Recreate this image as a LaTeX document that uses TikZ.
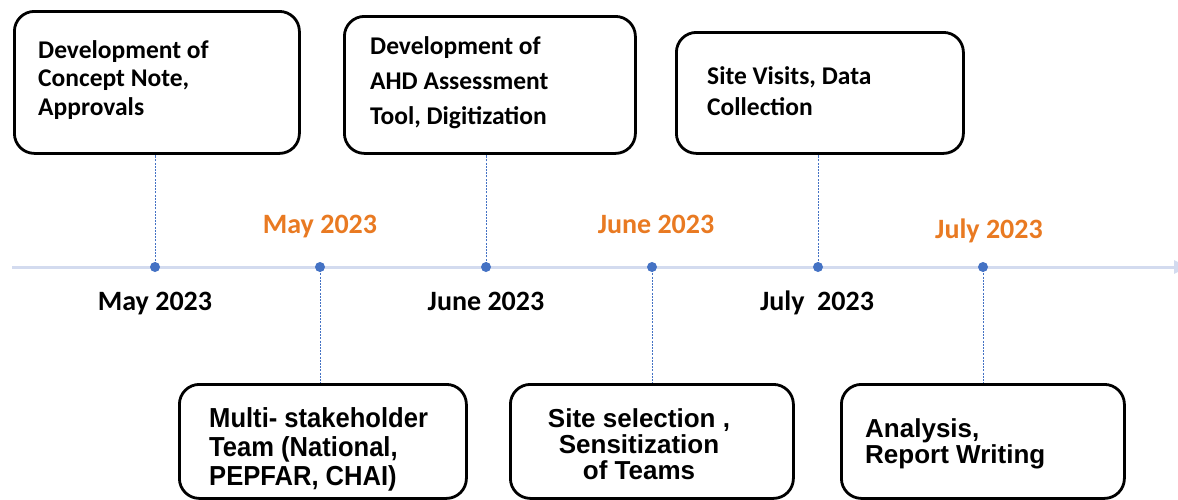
\documentclass[tikz,border=0pt]{standalone}
\usepackage{fontspec}
\usetikzlibrary{arrows.meta}
\newfontfamily\calfont{Carlito}
\newfontfamily\arifont{Liberation Sans}
\definecolor{dotblue}{HTML}{4472C4}
\definecolor{axiscol}{HTML}{D3DBEF}
\definecolor{orangelbl}{HTML}{E97A22}
\renewcommand\arraystretch{1}
\tikzset{
  stagebox/.style={draw=black, line width=2.8pt, rounded corners=20pt, inner sep=0pt, anchor=north west},
  topfont/.style={font={\calfont\bfseries\fontsize{25.5}{28.5}\selectfont}, inner sep=0pt, anchor=base west},
  botfont/.style={font={\arifont\bfseries\fontsize{26}{28.5}\selectfont}, inner sep=0pt, anchor=base west},
  datelbl/.style={font={\calfont\bfseries\fontsize{28}{32}\selectfont}, inner sep=0pt, anchor=base},
  dot/.style={circle, fill=dotblue, minimum size=10pt, inner sep=0pt},
  conn/.style={draw=dotblue, line width=0.9pt, dash pattern=on 2pt off 1.2pt},
  axisline/.style={draw=axiscol, line width=3pt, -{Triangle[length=14pt,width=13pt]}}
}
\begin{document}
\begin{tikzpicture}[x=1pt,y=-1pt]
\useasboundingbox (0,0) rectangle (1178,499);
\fill[white] (0,0) rectangle (1178,499);

% axis
\coordinate (axs) at (12,267);
\coordinate (axe) at (1188,267);
\draw[axisline] (axs) -- (axe);

% boxes
\node[stagebox, minimum width=285pt, minimum height=142pt] (t1) at (13,10) {};
\node[stagebox, minimum width=291pt, minimum height=137pt] (t2) at (343,15) {};
\node[stagebox, minimum width=287pt, minimum height=121pt] (t3) at (675,31) {};
\node[stagebox, minimum width=287pt, minimum height=114pt] (b1) at (178,383) {};
\node[stagebox, minimum width=283pt, minimum height=114pt] (b2) at (509,383) {};
\node[stagebox, minimum width=283pt, minimum height=114pt] (b3) at (840,383) {};

% dots positions
\coordinate (p1) at (155,267);
\coordinate (p2) at (320,267);
\coordinate (p3) at (486,267);
\coordinate (p4) at (652,267);
\coordinate (p5) at (818,267);
\coordinate (p6) at (983,267);

% connectors
\draw[conn] (p1) -- (p1 |- t1.south);
\draw[conn] (p2) -- (p2 |- b1.north);
\draw[conn] (p3) -- (p3 |- t2.south);
\draw[conn] (p4) -- (p4 |- b2.north);
\draw[conn] (p5) -- (p5 |- t3.south);
\draw[conn] (p6) -- (p6 |- b3.north);

\node[dot] (d1) at (p1) {};
\node[dot] (d2) at (p2) {};
\node[dot] (d3) at (p3) {};
\node[dot] (d4) at (p4) {};
\node[dot] (d5) at (p5) {};
\node[dot] (d6) at (p6) {};

% box texts
\node[topfont] (t1txt) at (38,58) {\begin{tabular}[t]{@{}l@{}}Development of\\Concept Note,\\Approvals\end{tabular}};
\node[topfont, font={\calfont\bfseries\fontsize{25.5}{35}\selectfont}] (t2txt) at (370,54) {\begin{tabular}[t]{@{}l@{}}Development of\\AHD Assessment\\Tool, Digitization\end{tabular}};
\node[topfont, font={\calfont\bfseries\fontsize{25.5}{31}\selectfont}] (t3txt) at (707,84) {\begin{tabular}[t]{@{}l@{}}Site Visits, Data\\Collection\end{tabular}};

\node[botfont, font={\arifont\bfseries\fontsize{27.5}{29}\selectfont}] (b1txt) at (209,427) {\scalebox{0.93}[1]{\begin{tabular}[t]{@{}l@{}}Multi- stakeholder\\Team (National,\\PEPFAR, CHAI)\end{tabular}}};
\node[botfont, anchor=base, font={\arifont\bfseries\fontsize{26}{24.5}\selectfont}] (b2txt) at (639,427) {\begin{tabular}[t]{@{}c@{}}Site selection ,\\Sensitization\\of Teams\end{tabular}};
\node[botfont, font={\arifont\bfseries\fontsize{26}{25}\selectfont}] (b3txt) at (865,437) {\begin{tabular}[t]{@{}l@{}}Analysis,\\Report Writing\end{tabular}};

% date labels
\node[datelbl] (l1) at (155,310) {May 2023};
\node[datelbl] (l3) at (486,310) {June 2023};
\node[datelbl] (l5) at (817,310) {July\ \ 2023};
\node[datelbl, text=orangelbl] (l2) at (320,233) {May 2023};
\node[datelbl, text=orangelbl] (l4) at (656,233) {June 2023};
\node[datelbl, text=orangelbl] (l6) at (989,238) {July 2023};
\end{tikzpicture}
\end{document}
